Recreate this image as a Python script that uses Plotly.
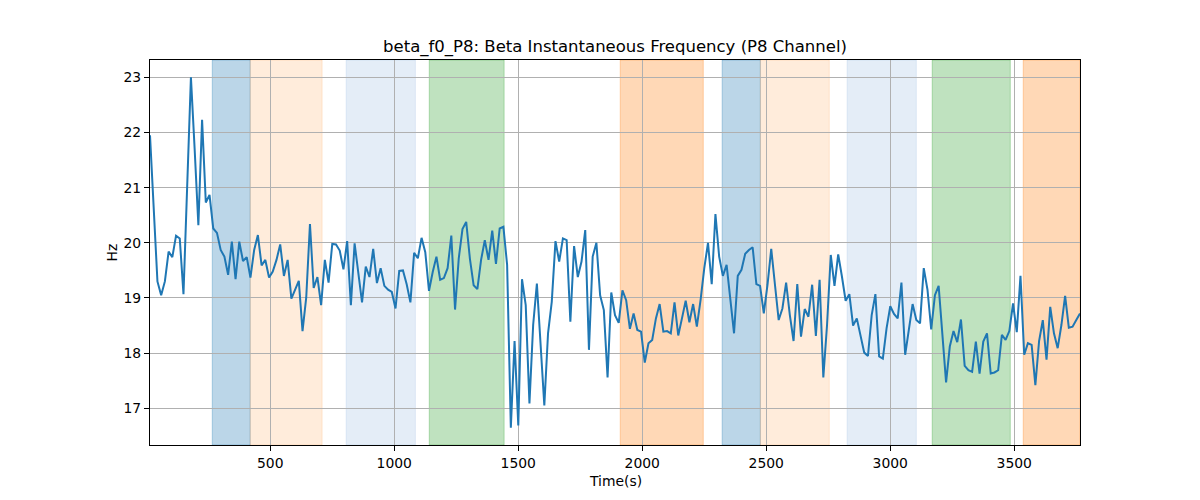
import plotly.graph_objects as go

# ---- data ----
T_START = 15
T_STEP = 15
freq_hz = [
    21.95, 20.5, 19.30, 19.05, 19.30, 19.84, 19.74, 20.13, 20.08, 19.07,
    21.0, 23.0, 21.7, 20.32, 22.23, 20.73, 20.87, 20.26, 20.18, 19.87,
    19.75, 19.42, 20.02, 19.34, 20.02, 19.67, 19.74, 19.37, 19.87, 20.14,
    19.59, 19.69, 19.37, 19.48, 19.69, 19.97, 19.40, 19.69, 18.99, 19.14,
    19.31, 18.40, 19.01, 20.34, 19.18, 19.38, 18.87, 19.69, 19.28, 19.98,
    19.97, 19.86, 19.52, 20.03, 18.87, 19.99, 19.50, 18.92, 19.57, 19.38,
    19.89, 19.27, 19.54, 19.22, 19.15, 19.11, 18.81, 19.49, 19.50, 19.25,
    18.92, 19.82, 19.72, 20.09, 19.83, 19.13, 19.47, 19.75, 19.33, 19.36,
    19.54, 20.13, 18.79, 19.72, 20.25, 20.38, 19.71, 19.23, 19.16, 19.69,
    20.05, 19.69, 20.22, 19.62, 20.26, 20.29, 19.60, 16.65, 18.22, 16.69,
    19.34, 18.87, 17.09, 18.51, 19.26, 18.2, 17.05, 18.36, 18.93, 20.03,
    19.66, 20.08, 20.05, 18.57, 19.94, 19.38, 19.66, 20.23, 18.06, 19.75,
    20.00, 19.05, 18.78, 17.56, 19.10, 18.69, 18.55, 19.14, 18.96, 18.44,
    18.72, 18.42, 18.39, 17.83, 18.18, 18.24, 18.63, 18.89, 18.39, 18.40,
    18.36, 18.92, 18.32, 18.63, 18.95, 18.56, 18.89, 18.48, 18.96, 19.54,
    20.00, 19.25, 20.52, 19.75, 19.40, 19.60, 18.96, 18.36, 19.40, 19.51,
    19.80, 19.87, 19.92, 19.25, 19.22, 18.72, 19.24, 19.89, 19.24, 18.60,
    18.81, 19.28, 18.69, 18.22, 19.25, 18.30, 18.80, 18.66, 19.24, 18.31,
    19.33, 17.56, 18.51, 19.78, 19.22, 19.79, 19.39, 18.95, 19.07, 18.50,
    18.63, 18.33, 18.01, 17.95, 18.69, 19.07, 17.94, 17.90, 18.45, 18.85,
    18.71, 18.63, 19.28, 17.97, 18.48, 18.89, 18.60, 18.54, 19.54, 19.15,
    18.43, 19.05, 19.22, 18.27, 17.47, 18.12, 18.40, 18.20, 18.61, 17.77,
    17.69, 17.66, 18.21, 17.63, 18.21, 18.36, 17.63, 17.65, 17.69, 18.33,
    18.24, 18.40, 18.90, 18.38, 19.40, 17.97, 18.18, 18.15, 17.42, 18.22,
    18.60, 17.88, 18.84, 18.36, 18.09, 18.51, 19.04, 18.46, 18.48, 18.60,
    18.72,
]
time_s = [T_START + T_STEP * i for i in range(len(freq_hz))]

# shaded phases: (start, end, kind)
span_starts = [266, 419, 806, 1141, 1911, 2322, 2476, 2826, 3169, 3536]
span_ends = [419, 709, 1085, 1443, 2246, 2476, 2754, 3105, 3484, 3765]
span_kinds = ["blue", "lightorange", "lavender", "green", "orange",
              "blue", "lightorange", "lavender", "green", "orange"]

x_ticks = [500, 1000, 1500, 2000, 2500, 3000, 3500]
y_ticks = [17, 18, 19, 20, 21, 22, 23]

# ---- styles ----
kind_colors = {
    "blue": "rgba(31,119,180,0.3)",
    "lightorange": "rgba(255,127,14,0.15)",
    "lavender": "rgba(174,199,232,0.33)",
    "green": "rgba(44,160,44,0.3)",
    "orange": "rgba(255,127,14,0.3)",
}

fig = go.Figure()
fig.add_trace(go.Scatter(
    x=time_s, y=freq_hz, mode="lines",
    line=dict(color="#1f77b4", width=2), showlegend=False,
))

for s, e, k in zip(span_starts, span_ends, span_kinds):
    fig.add_shape(type="rect", xref="x", yref="paper", x0=s, x1=e, y0=0, y1=1,
                  fillcolor=kind_colors[k], line=dict(color=kind_colors[k], width=1),
                  layer="below")

# page has an 8px body margin; compensate so the plot area sits at x 150-1080, y 60-445
OFF = 8
font_family = "DejaVu Sans"
fig.update_layout(
    width=1200, height=500,
    margin=dict(l=150 - OFF, r=1200 + OFF - 1080, t=60 - OFF, b=500 + OFF - 445),
    paper_bgcolor="white", plot_bgcolor="white",
    font=dict(family=font_family, color="black", size=14),
    title=dict(text="beta_f0_P8: Beta Instantaneous Frequency (P8 Channel)",
               x=0.5, xref="paper", xanchor="center",
               y=1 - (46 - OFF) / 500, yref="container", yanchor="middle",
               font=dict(size=16.5, family=font_family, color="black")),
    annotations=[
        dict(text="Time(s)", xref="paper", yref="paper", x=0.5, y=(445 - 481) / 385,
             xanchor="center", yanchor="middle", showarrow=False,
             font=dict(size=13.9, family=font_family)),
        dict(text="Hz", xref="paper", yref="paper", x=(111 - 150) / 930, y=0.5,
             xanchor="center", yanchor="middle", showarrow=False, textangle=-90,
             font=dict(size=13.9, family=font_family)),
    ],
)
fig.update_xaxes(
    range=[15, 3765], tickvals=x_ticks, ticktext=[str(v) for v in x_ticks],
    showgrid=True, gridcolor="#b0b0b0", gridwidth=1,
    showline=True, linecolor="black", linewidth=1, mirror=True,
    ticks="outside", ticklen=5, tickcolor="black", tickwidth=1,
    tickfont=dict(size=13.9, family=font_family), zeroline=False,
)
fig.update_yaxes(
    range=[16.335, 23.314], tickvals=y_ticks, ticktext=[str(v) for v in y_ticks],
    showgrid=True, gridcolor="#b0b0b0", gridwidth=1,
    showline=True, linecolor="black", linewidth=1, mirror=True,
    ticks="outside", ticklen=5, tickcolor="black", tickwidth=1,
    tickfont=dict(size=13.9, family=font_family), zeroline=False,
)

fig.write_html("out.html")
